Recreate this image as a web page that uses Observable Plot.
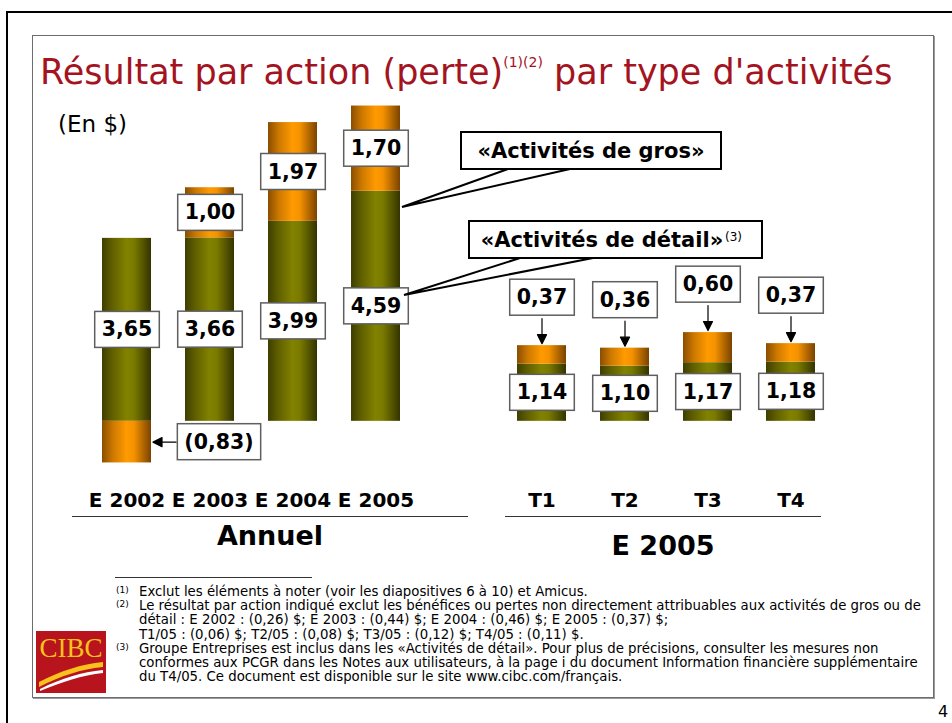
<!DOCTYPE html>
<html lang="fr">
<head>
<meta charset="utf-8">
<script src="https://cdn.jsdelivr.net/npm/d3@7"></script>
<script src="https://cdn.jsdelivr.net/npm/@observablehq/plot@0.6"></script>
<style>
html,body{margin:0;padding:0;background:#fff;}
#page{position:relative;width:952px;height:723px;overflow:hidden;font-family:"DejaVu Sans",Verdana,sans-serif;color:#000;}
#outer{position:absolute;left:6px;top:11px;width:980px;height:760px;border-left:2px solid #000;border-top:2px solid #000;}
#panel{position:absolute;left:32px;top:35px;width:900px;height:661px;border:1px solid #6d6d6d;box-shadow:1px 1px 0 #9a9a9a;}
#title{position:absolute;left:40px;top:55px;font-size:35px;color:#A3141F;white-space:nowrap;line-height:35px;}
#title .sup{font-size:14px;position:relative;top:-17px;}
#unit{position:absolute;left:58px;top:111px;font-size:23px;white-space:nowrap;line-height:27px;}
#chart{position:absolute;left:0;top:0;}
#ann{position:absolute;left:0;top:0;}
.grp{position:absolute;border-top:1.5px solid #333;text-align:center;font-weight:bold;font-size:27px;white-space:nowrap;line-height:30px;}
.fl{position:absolute;left:139px;white-space:nowrap;font-size:13.3px;line-height:14px;}
.fn{position:absolute;left:116px;font-size:9px;line-height:10px;}
#rule{position:absolute;left:115px;top:577px;width:197px;border-top:1px solid #333;}
#pageno{position:absolute;left:938px;top:702px;font-size:16px;}
#logo{position:absolute;left:36px;top:631px;}
</style>
</head>
<body>
<div id="page">
  <div id="outer"></div>
  <div id="panel"></div>
  <div id="title">Résultat par action (perte)<span class="sup">(1)(2)</span> par type d'activités</div>
  <div id="unit">(En $)</div>
  <div id="chart"></div>
  <svg id="ann" width="952" height="723">
    <g stroke="#000" stroke-width="2" fill="none">
      <polyline points="508,169 402,207 570,169"/>
      <polyline points="520,258 404,295 593,258"/>
    </g>
    <rect x="461" y="132" width="260" height="37" fill="#fff" stroke="#000" stroke-width="2"/>
    <text x="591" y="151" text-anchor="middle" dominant-baseline="central" font-family="DejaVu Sans" font-weight="bold" font-size="21">«Activités de gros»</text>
    <rect x="469" y="221" width="293" height="37" fill="#fff" stroke="#000" stroke-width="2"/>
    <text x="602" y="240" text-anchor="middle" dominant-baseline="central" font-family="DejaVu Sans" font-weight="bold" font-size="21">«Activités de détail»</text>
    <text x="725" y="241" font-family="DejaVu Sans" font-size="12">(3)</text>
  </svg>
  <div class="grp" style="left:72px;top:516px;width:396px;padding-top:4px;">Annuel</div>
  <div class="grp" style="left:505px;top:516px;width:316px;padding-top:14px;">E 2005</div>
  <div id="rule"></div>
  <div class="fn" style="top:585px">(1)</div>
  <div class="fl" style="top:585px">Exclut les éléments à noter (voir les diapositives 6 à 10) et Amicus.</div>
  <div class="fn" style="top:599px">(2)</div>
  <div class="fl" style="top:599.2px">Le résultat par action indiqué exclut les bénéfices ou pertes non directement attribuables aux activités de gros ou de</div>
  <div class="fl" style="top:613.4px">détail : E 2002 : (0,26) $; E 2003 : (0,44) $; E 2004 : (0,46) $; E 2005 : (0,37) $;</div>
  <div class="fl" style="top:627.6px">T1/05 : (0,06) $; T2/05 : (0,08) $; T3/05 : (0,12) $; T4/05 : (0,11) $.</div>
  <div class="fn" style="top:641.5px">(3)</div>
  <div class="fl" style="top:641.8px">Groupe Entreprises est inclus dans les «Activités de détail». Pour plus de précisions, consulter les mesures non</div>
  <div class="fl" style="top:656px">conformes aux PCGR dans les Notes aux utilisateurs, à la page i du document Information financière supplémentaire</div>
  <div class="fl" style="top:670.2px">du T4/05. Ce document est disponible sur le site www.cibc.com/français.</div>
  <svg id="logo" width="70" height="62">
    <rect width="70" height="62" fill="#B8141E"/>
    <text x="35" y="26" text-anchor="middle" font-family="Liberation Serif" font-size="27" fill="#F7C21B">CIBC</text>
    <path d="M3,51 C25,40 45,33 67,31 L67,36 C45,38 25,45 3,56 Z" fill="#F7C21B"/>
    <path d="M4,58 C26,47 46,41 67,39 L67,42 C46,44 26,51 4,60 Z" fill="#fff"/>
  </svg>
  <div id="pageno">4</div>
</div>
<script>
// ---- data ----
const periods = ["E 2002", "E 2003", "E 2004", "E 2005", "T1", "T2", "T3", "T4"];
const retail = [3.65, 3.66, 3.99, 4.59, 1.14, 1.10, 1.17, 1.18];      // «Activités de détail»
const wholesale = [-0.83, 1.00, 1.97, 1.70, 0.37, 0.36, 0.60, 0.37];  // «Activités de gros»
const segments = ["Activités de détail", "Activités de gros"];
const gapKey = " ";

const xDomain = [...periods.slice(0, 4), gapKey, ...periods.slice(4)];
const fmt = v => { const s = Math.abs(v).toFixed(2).replace(".", ","); return v < 0 ? `(${s})` : s; };

const rows = periods.flatMap((p, i) => [
  {period: p, segment: segments[0], value: retail[i], annual: i < 4},
  {period: p, segment: segments[1], value: wholesale[i], annual: i < 4}
]);
const negRows = rows.filter(d => d.value < 0);
const qRows = periods.slice(4).map((p, i) => ({period: p, value: wholesale[i + 4], total: retail[i + 4] + wholesale[i + 4]}));

const arrowShape = {
  draw(context, l) {
    const h = 9, w = 4.5;
    context.moveTo(0, 0);
    context.lineTo(0, -l + h);
    context.moveTo(-w, -l + h);
    context.lineTo(0, -l);
    context.lineTo(w, -l + h);
    context.closePath();
  }
};

const labelStyle = {className: "vbox", fontSize: 20.5, fontWeight: "bold", fill: "#000"};

const chart = Plot.plot({
  width: 952,
  height: 560,
  marginLeft: 67,
  marginRight: 102,
  marginTop: 95,
  marginBottom: 74,
  style: {background: "transparent", fontFamily: "DejaVu Sans", overflow: "visible"},
  x: {domain: xDomain, padding: 0.405, label: null},
  y: {domain: [-1.3, 6.5], axis: null},
  color: {domain: segments, range: ["url(#gOlive)", "url(#gOrange)"]},
  marks: [
    Plot.barY(rows, {x: "period", y: "value", fill: "segment"}),
    Plot.text(rows, Plot.stackY({
      x: "period", y: "value", z: "segment",
      text: d => (d.segment === segments[0] || (d.annual && d.value > 0)) ? fmt(d.value) : null,
      ...labelStyle
    })),
    Plot.text(negRows, {x: "period", y: d => d.value / 2, text: d => fmt(d.value), dx: 92, ...labelStyle}),
    Plot.vector(negRows, {x: "period", y: d => d.value / 2, rotate: -90, anchor: "end", length: 23, dx: 26,
      shape: arrowShape, fill: "#000", stroke: "#000", strokeWidth: 1.2}),
    Plot.text(qRows, {x: "period", y: "total", text: d => fmt(d.value), dy: -48, ...labelStyle}),
    Plot.vector(qRows, {x: "period", y: "total", rotate: 180, anchor: "end", length: 25, dy: -2,
      shape: arrowShape, fill: "#000", stroke: "#000", strokeWidth: 1.2}),
    Plot.axisX({ticks: periods, tickSize: 0, tickPadding: 6, fontSize: 20, fontWeight: "bold", label: null})
  ]
});

const ns = "http://www.w3.org/2000/svg";
const defs = document.createElementNS(ns, "defs");
defs.innerHTML = `
<linearGradient id="gOlive" x1="0" x2="1" y1="0" y2="0">
  <stop offset="0" stop-color="#3e3e00"/>
  <stop offset="0.2" stop-color="#5e5e00"/>
  <stop offset="0.5" stop-color="#828200"/>
  <stop offset="0.65" stop-color="#7a7a00"/>
  <stop offset="1" stop-color="#343400"/>
</linearGradient>
<linearGradient id="gOrange" x1="0" x2="1" y1="0" y2="0">
  <stop offset="0" stop-color="#8a4e00"/>
  <stop offset="0.22" stop-color="#cc7800"/>
  <stop offset="0.5" stop-color="#ff9a00"/>
  <stop offset="0.65" stop-color="#f59200"/>
  <stop offset="1" stop-color="#7a4300"/>
</linearGradient>`;
chart.insertBefore(defs, chart.firstChild);
document.getElementById("chart").append(chart);

// white label boxes behind value labels
chart.querySelectorAll("g.vbox text").forEach(t => {
  const b = t.getBBox();
  const r = document.createElementNS(ns, "rect");
  r.setAttribute("x", b.x - 7);
  r.setAttribute("y", b.y - 6);
  r.setAttribute("width", b.width + 14);
  r.setAttribute("height", b.height + 12);
  const tr = t.getAttribute("transform");
  if (tr) r.setAttribute("transform", tr);
  r.setAttribute("fill", "#fff");
  r.setAttribute("stroke", "#5f5f5f");
  r.setAttribute("stroke-width", "1.5");
  t.parentNode.insertBefore(r, t);
});
</script>
</body>
</html>
